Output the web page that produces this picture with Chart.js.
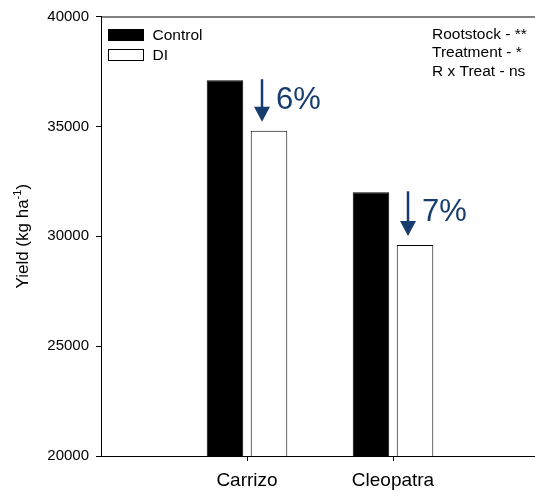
<!DOCTYPE html>
<html>
<head>
<meta charset="utf-8">
<script src="https://cdn.jsdelivr.net/npm/chart.js@4.4.0/dist/chart.umd.min.js"></script>
<style>
  html, body { margin: 0; padding: 0; background: #fff; overflow: hidden; }
  canvas { display: block; }
</style>
</head>
<body>
<canvas id="yield-chart" width="540" height="492"></canvas>
<script>
// Rootstocks on the x axis (empty slots pad both ends of the axis)
const rootstocks = ["", "Carrizo", "Cleopatra", ""];
const controlYield = [null, 37100, 32000, null];
const diYield = [null, 34800, 29600, null];
// Yield reduction under DI, per rootstock
const reductionLabels = ["6%", "7%"];
const statsNotes = ["Rootstock - **", "Treatment - *", "R x Treat - ns"];
const yTicks = [20000, 25000, 30000, 35000, 40000];

const FONT = "'Liberation Sans', Arial, sans-serif";
const ARROW_BLUE = "#163d6e";

// Top border of the plot frame
const framePlugin = {
  id: "frame",
  afterDraw(chart) {
    const { ctx, chartArea } = chart;
    ctx.save();
    ctx.strokeStyle = "#000";
    ctx.lineWidth = 1;
    ctx.beginPath();
    ctx.moveTo(chartArea.left, chartArea.top + 0.5);
    ctx.lineTo(chartArea.right, chartArea.top + 0.5);
    ctx.stroke();
    ctx.restore();
  }
};

// Legend in the upper left corner of the plot
const boxLegend = {
  id: "boxLegend",
  afterDraw(chart) {
    const { ctx, chartArea } = chart;
    ctx.save();
    ctx.font = "15.5px " + FONT;
    ctx.textBaseline = "middle";
    chart.data.datasets.forEach((ds, i) => {
      const x = chartArea.left + 7.5;
      const y = chartArea.top + 13 + i * 20;
      ctx.fillStyle = ds.backgroundColor;
      ctx.fillRect(x, y, 35, 11);
      ctx.strokeStyle = "#000";
      ctx.lineWidth = 1;
      ctx.strokeRect(x, y, 35, 11);
      ctx.fillStyle = "#000";
      ctx.fillText(ds.label, x + 44, y + 6);
    });
    ctx.restore();
  }
};

// Significance notes in the upper right corner
const notesPlugin = {
  id: "notes",
  afterDraw(chart) {
    const { ctx, chartArea } = chart;
    ctx.save();
    ctx.font = "15.5px " + FONT;
    ctx.fillStyle = "#000";
    ctx.textBaseline = "middle";
    statsNotes.forEach((t, i) => {
      ctx.fillText(t, 432, chartArea.top + 18 + i * 18.5);
    });
    ctx.restore();
  }
};

// Down arrows with percentage drop above the DI bars
const dropArrows = {
  id: "dropArrows",
  afterDatasetsDraw(chart) {
    const { ctx } = chart;
    const ctrl = chart.getDatasetMeta(0).data;
    const di = chart.getDatasetMeta(1).data;
    ctx.save();
    ctx.strokeStyle = ARROW_BLUE;
    ctx.fillStyle = ARROW_BLUE;
    reductionLabels.forEach((label, i) => {
      const c = ctrl[i + 1], d = di[i + 1];
      const x = d.x - 7;
      const top = c.y - 1;
      const tip = d.y - 9;
      ctx.lineWidth = 2.5;
      ctx.beginPath();
      ctx.moveTo(x, top);
      ctx.lineTo(x, tip - 12);
      ctx.stroke();
      ctx.beginPath();
      ctx.moveTo(x - 8, tip - 15);
      ctx.lineTo(x + 8, tip - 15);
      ctx.lineTo(x, tip);
      ctx.closePath();
      ctx.fill();
      ctx.font = "31px " + FONT;
      ctx.textBaseline = "alphabetic";
      ctx.fillText(label, x + 14, top + 30);
    });
    ctx.restore();
  }
};

// Rotated y axis title with superscript unit
const yTitle = {
  id: "yTitle",
  afterDraw(chart) {
    const { ctx, chartArea } = chart;
    const main = "Yield (kg ha";
    const sup = "-1";
    const close = ")";
    ctx.save();
    ctx.translate(28, (chartArea.top + chartArea.bottom) / 2);
    ctx.rotate(-Math.PI / 2);
    ctx.fillStyle = "#000";
    ctx.textBaseline = "alphabetic";
    ctx.font = "17px " + FONT;
    const w1 = ctx.measureText(main).width;
    const w3 = ctx.measureText(close).width;
    ctx.font = "11px " + FONT;
    const w2 = ctx.measureText(sup).width;
    let x = -(w1 + w2 + w3) / 2;
    ctx.font = "17px " + FONT;
    ctx.fillText(main, x, 0);
    x += w1;
    ctx.font = "11px " + FONT;
    ctx.fillText(sup, x, -7);
    x += w2;
    ctx.font = "17px " + FONT;
    ctx.fillText(close, x, 0);
    ctx.restore();
  }
};

const ctx = document.getElementById("yield-chart").getContext("2d");

window.chartInstance = new Chart(ctx, {
  type: "bar",
  data: {
    labels: rootstocks,
    datasets: [
      {
        label: "Control",
        data: controlYield,
        backgroundColor: "#000000",
        borderColor: "#000000",
        borderWidth: 1
      },
      {
        label: "DI",
        data: diYield,
        backgroundColor: "#ffffff",
        borderColor: "#000000",
        borderWidth: 1
      }
    ]
  },
  options: {
    responsive: false,
    animation: false,
    layout: { padding: { top: 16.5, right: 1, left: 0, bottom: 0 } },
    categoryPercentage: 0.603,
    barPercentage: 0.83,
    plugins: {
      legend: { display: false },
      tooltip: { enabled: false }
    },
    scales: {
      x: {
        type: "category",
        offset: false,
        grid: {
          offset: false,
          drawOnChartArea: false,
          tickLength: 5,
          tickColor: (c) => (c.index === 1 || c.index === 2 ? "#000" : "rgba(0,0,0,0)")
        },
        border: { color: "#000", width: 1 },
        ticks: {
          color: "#000",
          font: { family: FONT, size: 19 },
          padding: 8,
          maxRotation: 0,
          autoSkip: false
        },
        afterFit(scale) {
          scale.height = 36;
          scale.paddingRight = 0;
          scale.paddingLeft = 0;
        }
      },
      y: {
        min: 20000,
        max: 40000,
        afterBuildTicks(scale) { scale.ticks = yTicks.map(v => ({ value: v })); },
        grid: { drawOnChartArea: false, tickLength: 5, tickColor: "#000" },
        border: { color: "#000", width: 1 },
        ticks: {
          color: "#000",
          font: { family: FONT, size: 15 },
          padding: 7,
          callback: (v) => String(v)
        },
        afterFit(scale) { scale.width = 101; }
      }
    }
  },
  plugins: [framePlugin, boxLegend, notesPlugin, dropArrows, yTitle]
});
</script>
</body>
</html>
